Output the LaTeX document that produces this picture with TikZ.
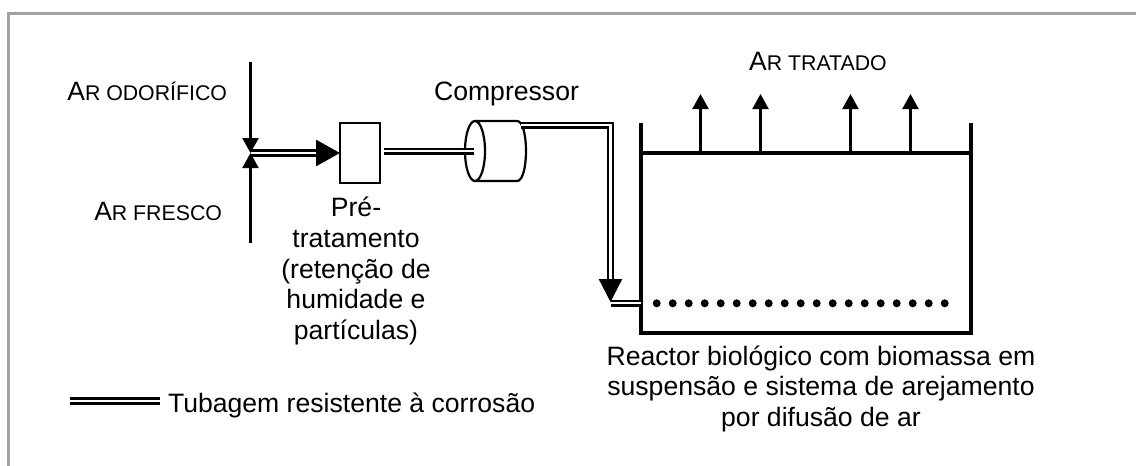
\documentclass[tikz,border=0pt]{standalone}
\usepackage{fontspec}
\setmainfont{Liberation Sans}
\usepackage{tikz}
\usetikzlibrary{arrows.meta}
\newcommand{\capsmall}[2]{{\fontsize{26.5}{31}\selectfont #1}{\fontsize{21.3}{31}\selectfont #2}}
\tikzset{
  frameline/.style = {line width=2.5pt, color={rgb:black,37;white,63}},
  label/.style = {inner sep=0pt, outer sep=0pt, font=\fontsize{26.6}{30.8}\selectfont},
  airline/.style = {line width=2.2pt, -{Triangle[length=15pt,width=16pt]}},
  pipe/.style = {double, line width=2.3pt, double distance=2.4pt},
  pipebig/.style = {pipe, line width=2.8pt, double distance=2pt},
  tank/.style = {line width=3.6pt},
  equip/.style = {draw, line width=2.2pt, inner sep=0pt, outer sep=0pt},
}
\begin{document}
\begin{tikzpicture}[x=1pt, y=-1pt]
\useasboundingbox (0,0) rectangle (1136,466);
% frame
\draw [frameline] (1136,13.5) -- (8.5,13.5) -- (8.5,466);
% air inlets
\coordinate (mix) at (250.5,153);
\coordinate (odor) at (250.5,62);
\coordinate (fresh) at (250.5,243);
\draw [airline] (odor) -- (mix);
\draw [airline] (fresh) -- (mix);
\node [label, anchor=base east] (lodor) at (227,100) {\capsmall{A}{R ODORÍFICO}};
\node [label, anchor=base east] (lfresh) at (222,220) {\capsmall{A}{R FRESCO}};
% pre-treatment
\node [equip, minimum width=40pt, minimum height=60pt] (pre) at (360,153) {};
\node [label, align=center, anchor=north] (lpre) at (356,197)
  {Pré-\\tratamento\\(retenção de\\humidade e\\partículas)};
\draw [pipebig, -{Triangle[length=24pt,width=26pt]}] (mix) -- (pre.west);
% compressor
\coordinate (comp) at (475,151);
\coordinate (preout) at (384,151);
\coordinate (compin) at (474,151);
\draw [line width=2.2pt] (comp) ellipse [x radius=10pt, y radius=30pt];
\draw [line width=2.2pt] (475,121) -- (517,121) .. controls (523,121) and (526,136) .. (526,151)
  .. controls (526,166) and (523,181) .. (517,181) -- (475,181);
\draw [pipe] (preout) -- (compin);
\node [label, anchor=base] (lcomp) at (506.5,100) {Compressor};
% reactor
\node [minimum width=330pt, minimum height=180pt, draw, tank, inner sep=0pt, outer sep=0pt] (reactor) at (806,243) {};
\draw [tank] (reactor.north west) -- ++(0,-30);
\draw [tank] (reactor.north east) -- ++(0,-30);
\foreach \i/\px in {1/700.5,2/760.5,3/850.5,4/910.5} {
  \coordinate (out\i) at (\px,94);
  \draw [airline] (reactor.north -| out\i) -- (out\i);
}
\foreach \i in {0,...,18}
  \fill ({656.7+16*\i},303.3) circle [radius=4pt];
\node [label, anchor=base] (lout) at (818,70) {\capsmall{A}{R TRATADO}};
\node [label, align=center, anchor=north] (lreactor) at (821,345.5)
  {Reactor biológico com biomassa em\\suspensão e sistema de arejamento\\por difusão de ar};
% pipe to reactor
\coordinate (compout) at (521,125);
\coordinate (turn) at (610.5,125);
\coordinate (drop) at (610.5,302);
\draw [pipe, -{Triangle[length=23pt,width=23pt]}] (compout) -- (turn) -- (drop);
\draw [pipe] (drop |- 0,303) -- (reactor.west |- 0,303);
% legend
\coordinate (lega) at (70,401);
\coordinate (legb) at (160,401);
\draw [pipebig] (lega) -- (legb);
\node [label, anchor=base west] (lleg) at (168,412.7) {Tubagem resistente à corrosão};
\end{tikzpicture}
\end{document}
